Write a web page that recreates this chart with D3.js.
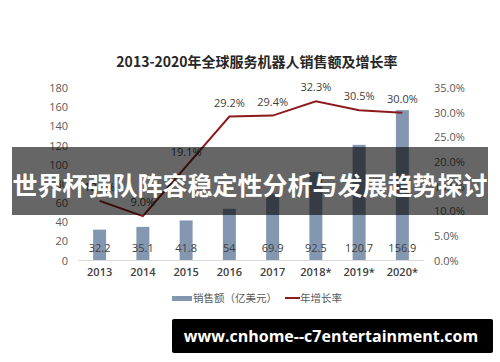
<!DOCTYPE html>
<html>
<head>
<meta charset="utf-8">
<script src="https://cdn.jsdelivr.net/npm/d3@7"></script>
<style>
  body { margin: 0; background: #fff; }
  svg { display: block; }
  text { font-family: "Noto Sans CJK SC", "Open Sans", sans-serif; }
</style>
</head>
<body>
<div id="chart"></div>
<script>
// Data
const years = ["2013", "2014", "2015", "2016", "2017", "2018*", "2019*", "2020*"];
const sales = [32.2, 35.1, 41.8, 54, 69.9, 92.5, 120.7, 156.9];       // 亿美元
const growth = [12.1, 9.0, 19.1, 29.2, 29.4, 32.3, 30.5, 30.0];        // %
const leftTicks = [0, 20, 40, 60, 80, 100, 120, 140, 160, 180];
const rightTicks = [0, 5, 10, 15, 20, 25, 30, 35];

const width = 500, height = 362;
const barColor = "#8497b0";
const lineColor = "#8e1b1b";

const svg = d3.select("#chart").append("svg")
  .attr("width", width)
  .attr("height", height);

// scales
const x = d3.scaleBand().domain(years).range([78, 424])
  .paddingInner(0.7).paddingOuter(0.35);
const yL = d3.scaleLinear().domain([0, 180]).range([260.5, 88]);
const yR = d3.scaleLinear().domain([0, 35]).range([260.5, 88]);

// title
svg.append("text")
  .attr("x", 257).attr("y", 67)
  .attr("text-anchor", "middle")
  .style("font-size", "14px").style("font-weight", "bold")
  .attr("fill", "#262626")
  .text("2013-2020年全球服务机器人销售额及增长率");

// left axis labels
svg.append("g")
  .attr("transform", "translate(68,0)")
  .call(d3.axisLeft(yL).tickValues(leftTicks).tickSize(0).tickPadding(0))
  .call(g => g.select(".domain").remove())
  .selectAll("text")
  .style("font-size", "11px").attr("fill", "#595959")
  .style("font-family", "'Open Sans', sans-serif");

// right axis labels
svg.append("g")
  .attr("transform", "translate(434,0)")
  .call(d3.axisRight(yR).tickValues(rightTicks).tickSize(0).tickPadding(0)
    .tickFormat(d => d.toFixed(1) + "%"))
  .call(g => g.select(".domain").remove())
  .selectAll("text")
  .style("font-size", "11px").attr("fill", "#595959")
  .style("font-family", "'Open Sans', sans-serif");

// bars
svg.selectAll("rect.bar")
  .data(years)
  .enter().append("rect")
  .attr("class", "bar")
  .attr("x", d => x(d))
  .attr("width", x.bandwidth())
  .attr("y", (d, i) => yL(sales[i]))
  .attr("height", (d, i) => yL(0) - yL(sales[i]))
  .attr("fill", barColor);

// bottom axis
svg.append("g")
  .attr("transform", `translate(0,${yL(0)})`)
  .call(d3.axisBottom(x).tickSize(0).tickPadding(8))
  .call(g => g.select(".domain").attr("stroke", "#d9d9d9").attr("d", "M78,0H424"))
  .selectAll("text")
  .style("font-size", "11px").style("font-weight", "600")
  .attr("fill", "#404040")
  .style("font-family", "'Open Sans', sans-serif");

// bar value labels
svg.selectAll("text.val")
  .data(years)
  .enter().append("text")
  .attr("class", "val")
  .attr("x", d => x(d) + x.bandwidth() / 2)
  .attr("y", 252)
  .attr("text-anchor", "middle")
  .style("font-size", "11px").style("font-family", "'Open Sans', sans-serif")
  .attr("fill", "#404040")
  .text((d, i) => sales[i]);

// growth line
const line = d3.line()
  .x((d, i) => x(years[i]) + x.bandwidth() / 2)
  .y(d => yR(d));

svg.append("path")
  .datum(growth)
  .attr("d", line)
  .attr("fill", "none")
  .attr("stroke", lineColor)
  .attr("stroke-width", 2);

svg.selectAll("text.rate")
  .data(growth)
  .enter().append("text")
  .attr("class", "rate")
  .attr("x", (d, i) => x(years[i]) + x.bandwidth() / 2)
  .attr("y", d => yR(d) - 10)
  .attr("text-anchor", "middle")
  .style("font-size", "11px").style("font-family", "'Open Sans', sans-serif")
  .attr("fill", "#404040")
  .text(d => d.toFixed(1) + "%");

// legend
const legend = svg.append("g").attr("transform", "translate(172,298)");
legend.append("rect")
  .attr("x", 0).attr("y", -2).attr("width", 20).attr("height", 5)
  .attr("fill", barColor);
legend.append("text")
  .attr("x", 21).attr("y", 4)
  .style("font-size", "10.5px").attr("fill", "#595959")
  .text("销售额（亿美元）");
legend.append("line")
  .attr("x1", 113).attr("x2", 128).attr("y1", 0).attr("y2", 0)
  .attr("stroke", lineColor).attr("stroke-width", 2);
legend.append("text")
  .attr("x", 128).attr("y", 4)
  .style("font-size", "10.5px").attr("fill", "#595959")
  .text("年增长率");

// overlay banner
svg.append("rect")
  .attr("x", 12).attr("y", 147).attr("width", 476).attr("height", 68)
  .attr("fill", "rgba(0,0,0,0.6)");
svg.append("text")
  .attr("x", 250).attr("y", 184)
  .attr("text-anchor", "middle").attr("dominant-baseline", "central")
  .style("font-size", "25px").style("font-weight", "bold")
  .attr("fill", "#fff")
  .text("世界杯强队阵容稳定性分析与发展趋势探讨");

// site box
svg.append("rect")
  .attr("x", 172).attr("y", 319).attr("width", 321).attr("height", 34)
  .attr("rx", 2)
  .attr("fill", "#000");
svg.append("text")
  .attr("x", 331).attr("y", 336)
  .attr("text-anchor", "middle").attr("dominant-baseline", "central")
  .style("font-size", "16px").style("font-weight", "bold")
  .style("font-family", "'Open Sans', sans-serif")
  .attr("fill", "#fff")
  .text("www.cnhome--c7entertainment.com");
</script>
</body>
</html>
